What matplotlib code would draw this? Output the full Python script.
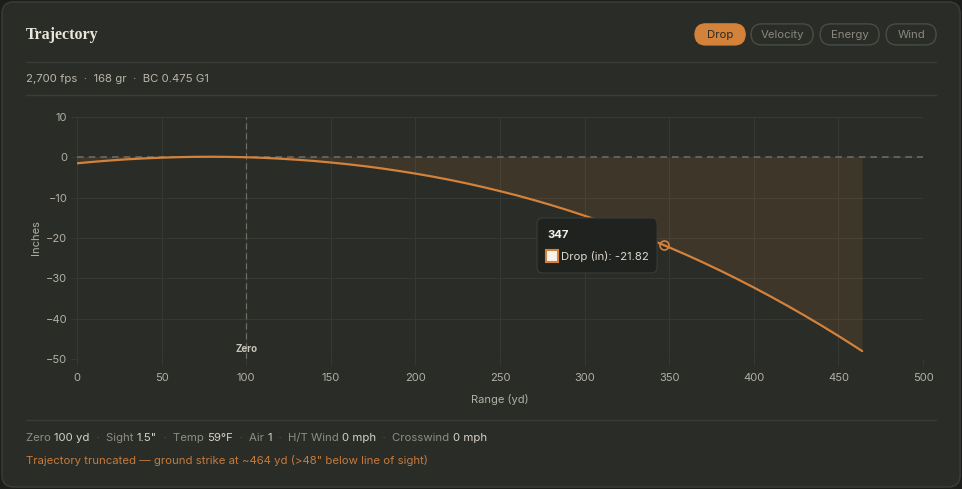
import matplotlib
matplotlib.use("Agg")
import matplotlib.pyplot as plt
from matplotlib.patches import FancyBboxPatch, Rectangle

# ---- data ----
range_yd = [0, 10, 20, 30, 40, 50, 60, 70, 80, 90, 100, 110, 120, 130, 140, 150, 160, 170, 180, 190,
            200, 210, 220, 230, 240, 250, 260, 270, 280, 290, 300, 310, 320, 330, 340, 347, 350, 360,
            370, 380, 390, 400, 410, 420, 430, 440, 450, 460, 464]
drop_in = [-1.50, -1.12, -0.78, -0.50, -0.28, -0.10, 0.03, 0.11, 0.13, 0.09, 0.00, -0.14, -0.35, -0.61,
           -0.92, -1.30, -1.73, -2.21, -2.76, -3.38, -4.05, -4.78, -5.58, -6.45, -7.39, -8.40, -9.46,
           -10.61, -11.83, -13.12, -14.50, -15.90, -17.39, -18.96, -20.61, -21.82, -22.35, -24.17,
           -26.08, -28.07, -30.14, -32.30, -34.53, -36.85, -39.25, -41.73, -44.30, -46.96, -48.05]
x_ticks = [0, 50, 100, 150, 200, 250, 300, 350, 400, 450, 500]
y_ticks = [10, 0, -10, -20, -30, -40, -50]
zero_range = 100
hover_idx = range_yd.index(347)
tabs = ["Drop", "Velocity", "Energy", "Wind"]
subtitle = "2,700 fps  ·  168 gr  ·  BC 0.475 G1"
footer_items = [("Zero", "100 yd"), ("Sight", "1.5\""), ("Temp", "59°F"), ("Air", "1"),
                ("H/T Wind", "0 mph"), ("Crosswind", "0 mph")]
warning = "Trajectory truncated — ground strike at ~464 yd (>48\" below line of sight)"

W, H = 962, 489
BG_OUT = "#1d1e1b"
CARD = "#292c27"
ORANGE = "#d4813a"
GRID = "#363933"
TICK = "#b5b0a5"
MUTED = "#8f8c84"
LIGHT = "#d8d2c6"

plt.rcParams['font.family'] = ['Inter', 'DejaVu Sans']

fig = plt.figure(figsize=(W / 100 + 0.001, H / 100 + 0.001), dpi=100)
fig.patch.set_facecolor(BG_OUT)


def fx(x):
    return x / W


def fy(y):
    return 1 - y / H


# card
card = FancyBboxPatch((fx(2), fy(487)), fx(958), 485 / H,
                      boxstyle="round,pad=0,rounding_size=0.012",
                      transform=fig.transFigure, facecolor=CARD, edgecolor="#3b3e38", linewidth=1.0,
                      mutation_aspect=W / H, zorder=-10)
fig.patches.append(card)

# title
fig.text(fx(26), fy(35), "Trajectory", family=['Liberation Serif', 'DejaVu Serif'], fontweight='bold',
         fontsize=11.5, color="#ece6da", va='center', ha='left')

# tabs
tab_boxes = [(695, 745), (751, 813), (820, 879), (886, 936)]
for (t, (x0, x1)) in zip(tabs, tab_boxes):
    active = t == "Drop"
    b = FancyBboxPatch((fx(x0), fy(45)), fx(x1 - x0), 21 / H,
                       boxstyle="round,pad=0,rounding_size=0.011",
                       transform=fig.transFigure,
                       facecolor=ORANGE if active else "none",
                       edgecolor=ORANGE if active else "#4a4d46", linewidth=1.0,
                       mutation_aspect=W / H)
    fig.patches.append(b)
    fig.text(fx((x0 + x1) / 2), fy(35), t, fontsize=8.2, color="#2a2a26" if active else "#8a877f",
             ha='center', va='center')

# separators
for yy in (62, 95, 420):
    fig.add_artist(plt.Line2D([fx(26), fx(936)], [fy(yy), fy(yy)], transform=fig.transFigure,
                              color="#3a3d37", linewidth=1.0))

fig.text(fx(26), fy(79), subtitle, fontsize=8.2, color="#bcb5a8", ha='left', va='center')

# axes
ax = fig.add_axes([fx(77), fy(359), fx(923 - 77), (359 - 117) / H])
ax.set_facecolor("none")
ax.set_xlim(0, 500)
ax.set_ylim(-50, 10)
ax.set_xticks(x_ticks)
ax.set_yticks(y_ticks)
ax.grid(True, color=GRID, linewidth=0.8)
ax.set_axisbelow(True)
for s in ax.spines.values():
    s.set_visible(False)
ax.tick_params(colors=GRID, labelcolor=TICK, labelsize=8, length=4, width=0.8)
ax.tick_params(axis='x', pad=6)
ax.tick_params(axis='y', pad=3)

ax.fill_between(range_yd, drop_in, 0, color=ORANGE, alpha=0.12, linewidth=0)
ax.axhline(0, color="#6b6a63", linewidth=1.2, linestyle=(0, (4, 3)))
ax.axvline(zero_range, color="#6e6d66", linewidth=0.9, linestyle=(0, (5, 3)))
ax.text(zero_range, -47.6, "Zero", fontsize=7, fontweight='bold', color="#c9c3b7", ha='center', va='center')
ax.plot(range_yd, drop_in, color=ORANGE, linewidth=1.6, solid_capstyle='round', solid_joinstyle='round')
ax.plot([range_yd[hover_idx]], [drop_in[hover_idx]], marker='o', markersize=6.5,
        markerfacecolor='none', markeredgecolor=ORANGE, markeredgewidth=1.2)

ax.set_ylabel("Inches", color=TICK, fontsize=8, labelpad=3)
ax.set_xlabel("Range (yd)", color=TICK, fontsize=8, labelpad=8)

# tooltip
tip = FancyBboxPatch((fx(537), fy(273)), fx(120), 55 / H,
                     boxstyle="round,pad=0,rounding_size=0.006",
                     transform=fig.transFigure, facecolor="#20221f", edgecolor="#3a3c37", linewidth=0.8,
                     mutation_aspect=W / H, zorder=10)
fig.patches.append(tip)
fig.text(fx(547), fy(235), f"{range_yd[hover_idx]}", fontsize=8.2, fontweight='bold', color="#f2efe8",
         ha='left', va='center', zorder=11)
sw = Rectangle((fx(546), fy(262)), fx(12), 12 / H, transform=fig.transFigure,
               facecolor="#f7f2ee", edgecolor=ORANGE, linewidth=1.5, zorder=11)
fig.patches.append(sw)
fig.text(fx(561), fy(256), f"Drop (in): {drop_in[hover_idx]:.2f}", fontsize=8.2, color="#ddd8cd",
         ha='left', va='center', zorder=11)

# footer
x = 26
r = fig.canvas.get_renderer()
for i, (lab, val) in enumerate(footer_items):
    t1 = fig.text(fx(x), fy(438), lab + " ", fontsize=8.2, color=MUTED, ha='left', va='center')
    x += t1.get_window_extent(renderer=r).width
    t2 = fig.text(fx(x), fy(438), val, fontsize=8.2, color=LIGHT, ha='left', va='center')
    x += t2.get_window_extent(renderer=r).width
    if i < len(footer_items) - 1:
        t3 = fig.text(fx(x), fy(438), "  ·  ", fontsize=8.2, color="#5f5d57", ha='left', va='center')
        x += t3.get_window_extent(renderer=r).width

fig.text(fx(26), fy(460), warning, fontsize=8.2, color="#c67a3c", ha='left', va='center')

fig.savefig("out.png", dpi=100, facecolor=BG_OUT)
